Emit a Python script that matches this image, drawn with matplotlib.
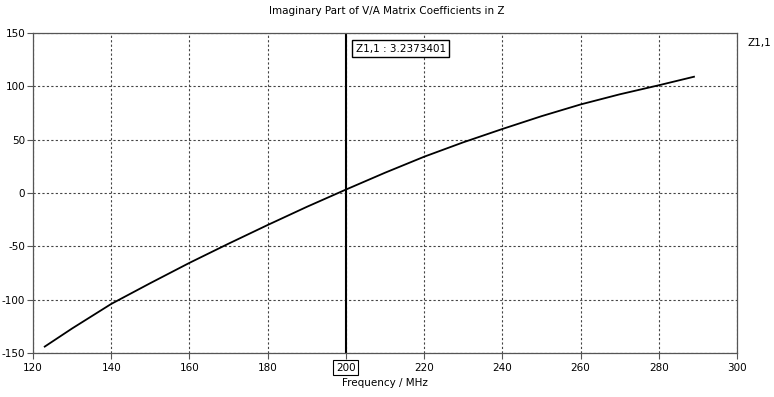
import numpy as np
import matplotlib
matplotlib.use("Agg")
import matplotlib.pyplot as plt

# values
freq_mhz = [123, 130, 140, 150, 160, 170, 180, 190, 200, 210, 220, 230, 240, 250, 260, 270, 280, 289]
z11_imag = [-144, -127, -104, -84.5, -65.5, -47.5, -30, -13, 3.2, 19, 34, 47.5, 60, 72, 83, 92.5, 101, 109]

marker_freq = 200
marker_text = "Z1,1 : 3.2373401"
x_ticks = [120, 140, 160, 180, 200, 220, 240, 260, 280, 300]
y_ticks = [-150, -100, -50, 0, 50, 100, 150]

plt.rcParams['font.family'] = ['Verdana', 'DejaVu Sans']
plt.rcParams['font.size'] = 7.5
plt.rcParams['axes.unicode_minus'] = False

fig = plt.figure(figsize=(7.74, 3.97), dpi=100)
ax = fig.add_axes([33 / 774, 1 - 353 / 397, (737 - 33) / 774, (353 - 33) / 397])

ax.plot(freq_mhz, z11_imag, color='black', linewidth=1.3)
ax.axvline(marker_freq, color='black', linewidth=1.5)

ax.set_xlim(120, 300)
ax.set_ylim(-150, 150)
ax.set_xticks(x_ticks)
ax.set_yticks(y_ticks)
ax.grid(True, color='#444444', linestyle=(0, (2, 2)), linewidth=0.8)

for side in ['left', 'bottom', 'top', 'right']:
    ax.spines[side].set_color('#555555')
    ax.spines[side].set_linewidth(0.9)
ax.tick_params(direction='out', length=4, width=0.8, color='#555555', pad=3)
ax.tick_params(axis='y', pad=1.5)

# boxed tick label at the marker
for lbl in ax.get_xticklabels():
    if lbl.get_text() == str(marker_freq):
        lbl.set_bbox(dict(boxstyle='square,pad=0.25', facecolor='white', edgecolor='black', linewidth=0.8))

ax.set_xlabel("Frequency / MHz", labelpad=4)
fig.suptitle("Imaginary Part of V/A Matrix Coefficients in Z", y=0.985, fontsize=7.5)

ax.text(marker_freq + 2.5, 140, marker_text, ha='left', va='top',
        bbox=dict(boxstyle='square,pad=0.35', facecolor='white', edgecolor='black', linewidth=1.0))
fig.text(748 / 774, 1 - 43 / 397, "Z1,1", ha='left', va='center')

fig.savefig('out.png', dpi=100)
